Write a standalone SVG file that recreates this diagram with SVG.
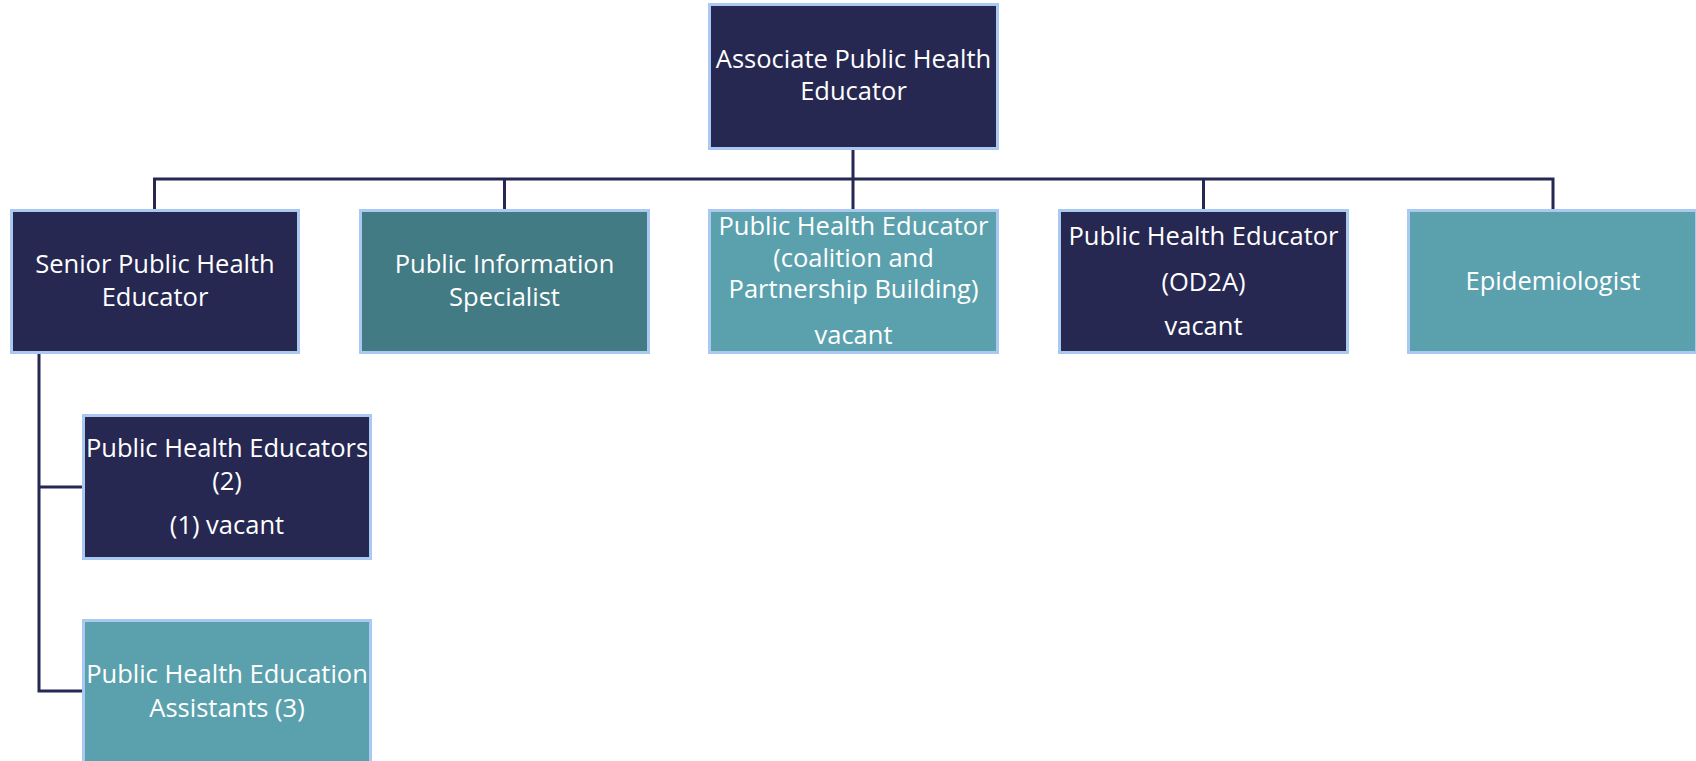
<svg xmlns="http://www.w3.org/2000/svg" width="1696" height="761" viewBox="0 0 1696 761">
  <style>
    .box { stroke: #a9c9f2; stroke-width: 3; }
    .navy { fill: #262852; }
    .teal { fill: #427b84; }
    .aqua { fill: #5ba1ad; }
    .lbl { font-family: "Open Sans", Lato, "Liberation Sans", sans-serif; font-size: 25.5px; fill: #ffffff; text-anchor: middle; }
    .wire { fill: none; stroke: #262852; stroke-width: 3; stroke-linejoin: miter; }
  </style>
  <rect width="1696" height="761" fill="#ffffff"/>

  <g id="connectors">
    <path class="wire" d="M853,150 V179"/>
    <path class="wire" d="M154.5,209 V179 H1553 V209"/>
    <path class="wire" d="M504.5,179 V209"/>
    <path class="wire" d="M853,179 V209"/>
    <path class="wire" d="M1203.5,179 V209"/>
    <path class="wire" d="M39,354 V691 H82"/>
    <path class="wire" d="M39,487 H82"/>
  </g>

  <g id="associate">
    <rect class="box navy" x="709.5" y="4.5" width="288" height="144"/>
    <text class="lbl" x="853.5" y="68">Associate Public Health</text>
    <text class="lbl" x="853.5" y="100">Educator</text>
  </g>

  <g id="senior">
    <rect class="box navy" x="11.5" y="210.5" width="287" height="142"/>
    <text class="lbl" x="155" y="273">Senior Public Health</text>
    <text class="lbl" x="155" y="306">Educator</text>
  </g>

  <g id="public-information">
    <rect class="box teal" x="360.5" y="210.5" width="288" height="142"/>
    <text class="lbl" x="504.5" y="273">Public Information</text>
    <text class="lbl" x="504.5" y="306">Specialist</text>
  </g>

  <g id="educator-coalition">
    <rect class="box aqua" x="709.5" y="210.5" width="288" height="142"/>
    <text class="lbl" x="853.5" y="235">Public Health Educator</text>
    <text class="lbl" x="853.5" y="267">(coalition and</text>
    <text class="lbl" x="853.5" y="298">Partnership Building)</text>
    <text class="lbl" x="853.5" y="344">vacant</text>
  </g>

  <g id="educator-od2a">
    <rect class="box navy" x="1059.5" y="210.5" width="288" height="142"/>
    <text class="lbl" x="1203.5" y="245">Public Health Educator</text>
    <text class="lbl" x="1203.5" y="291">(OD2A)</text>
    <text class="lbl" x="1203.5" y="335">vacant</text>
  </g>

  <g id="epidemiologist">
    <rect class="box aqua" x="1408.5" y="210.5" width="288" height="142"/>
    <text class="lbl" x="1553" y="290">Epidemiologist</text>
  </g>

  <g id="educators">
    <rect class="box navy" x="83.5" y="415.5" width="287" height="143"/>
    <text class="lbl" x="227" y="457">Public Health Educators</text>
    <text class="lbl" x="227" y="490">(2)</text>
    <text class="lbl" x="227" y="534">(1) vacant</text>
  </g>

  <g id="assistants">
    <rect class="box aqua" x="83.5" y="620.5" width="287" height="142"/>
    <text class="lbl" x="227" y="683">Public Health Education</text>
    <text class="lbl" x="227" y="717">Assistants (3)</text>
  </g>
</svg>
